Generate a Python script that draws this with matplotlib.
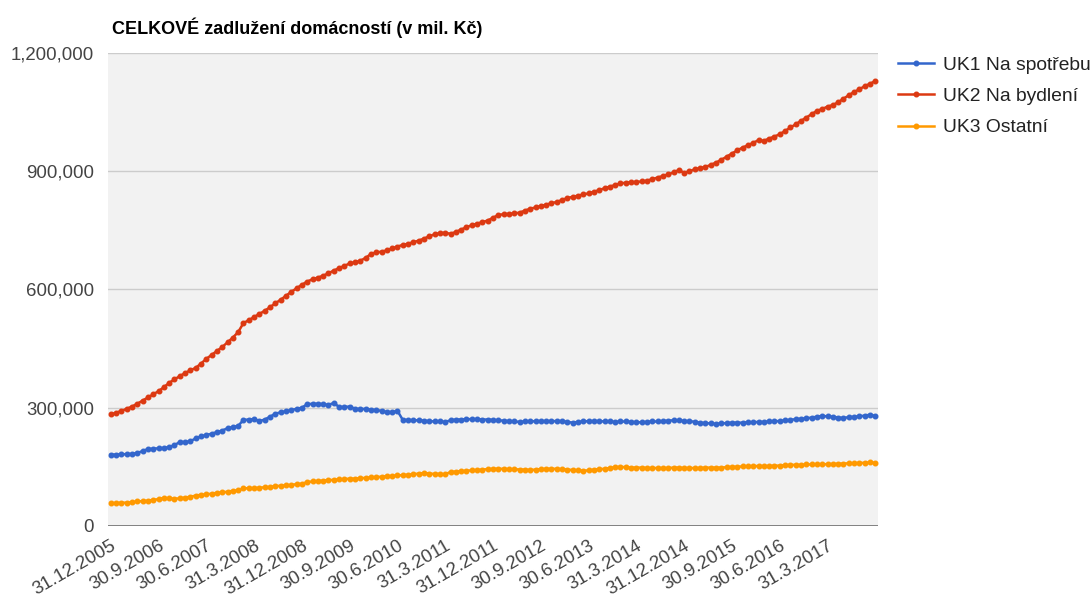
import matplotlib.pyplot as plt
from matplotlib.ticker import FuncFormatter

plt.rcParams['font.family'] = ['Liberation Sans', 'DejaVu Sans']

# monthly values, mil. Kč (read in thousands), 31.12.2005 .. 31.12.2017
uk1 = [181, 181, 182, 182, 183, 185, 190, 195, 196, 197, 198, 200, 205, 213, 213, 215,
       222, 227, 231, 234, 238, 242, 248, 251, 254, 269, 270, 271, 266, 270, 277, 285,
       288, 291, 294, 297, 300, 309, 310, 310, 309, 307, 312, 302, 302, 303, 297, 297,
       297, 295, 294, 292, 289, 289, 292, 269, 269, 268, 268, 267, 266, 265, 265, 264,
       268, 270, 270, 271, 271, 271, 270, 270, 269, 268, 267, 266, 265, 264, 265, 265,
       266, 266, 266, 266, 266, 266, 264, 262, 264, 265, 266, 266, 266, 265, 265, 264,
       265, 265, 264, 263, 263, 264, 265, 265, 266, 267, 268, 268, 266, 266, 264, 262,
       261, 260, 259, 260, 261, 262, 262, 262, 263, 263, 264, 264, 265, 266, 266, 268,
       269, 271, 272, 273, 275, 277, 279, 278, 277, 275, 274, 276, 277, 278, 280, 282,
       279]
uk2 = [283, 287, 292, 297, 303, 310, 318, 326, 334, 342, 352, 363, 372, 380, 388, 395,
       401, 412, 424, 434, 444, 454, 466, 478, 492, 515, 522, 530, 538, 546, 555, 565,
       574, 584, 594, 603, 612, 620, 626, 630, 635, 641, 648, 654, 660, 666, 669, 673,
       680, 690, 694, 696, 699, 704, 709, 713, 716, 720, 724, 729, 735, 740, 743, 744,
       741, 746, 752, 758, 763, 767, 771, 775, 782, 789, 791, 792, 793, 795, 800, 805,
       808, 812, 815, 819, 822, 827, 832, 835, 838, 841, 844, 848, 852, 857, 861, 865,
       869, 871, 872, 873, 874, 876, 880, 884, 888, 892, 897, 903, 896, 900, 905, 908,
       911, 916, 922, 929, 937, 945, 953, 960, 966, 972, 979, 977, 983, 988, 994, 1002,
       1011, 1019, 1028, 1036, 1045, 1053, 1058, 1064, 1068, 1075, 1084, 1093, 1101, 1108,
       1116, 1122, 1129]
uk3 = [58, 58, 59, 59, 60, 62, 63, 64, 66, 68, 71, 70, 69, 70, 72, 74, 77, 79, 80, 82,
       84, 85, 87, 89, 90, 95, 96, 96, 97, 98, 99, 101, 102, 103, 104, 106, 107, 111, 113,
       114, 115, 116, 117, 118, 119, 120, 120, 121, 122, 123, 124, 125, 126, 127, 128, 129,
       130, 131, 133, 134, 133, 132, 132, 131, 137, 138, 139, 140, 141, 142, 143, 144, 145,
       145, 145, 144, 144, 143, 143, 142, 143, 144, 145, 145, 145, 144, 143, 142, 141, 140,
       141, 143, 144, 145, 147, 149, 150, 149, 148, 148, 148, 147, 147, 147, 147, 147, 148,
       148, 147, 147, 147, 147, 148, 148, 148, 148, 149, 150, 150, 151, 151, 152, 152, 152,
       152, 153, 153, 154, 155, 155, 155, 156, 156, 156, 156, 157, 157, 158, 158, 159, 159,
       160, 160, 161, 160]

tick_labels = ["31.12.2005", "30.9.2006", "30.6.2007", "31.3.2008", "31.12.2008",
               "30.9.2009", "30.6.2010", "31.3.2011", "31.12.2011", "30.9.2012",
               "30.6.2013", "31.3.2014", "31.12.2014", "30.9.2015", "30.6.2016",
               "31.3.2017"]

series = [("UK1 Na spotřebu", uk1, "#3366cc"),
          ("UK2 Na bydlení", uk2, "#dc3912"),
          ("UK3 Ostatní", uk3, "#ff9900")]

fig = plt.figure(figsize=(10.92, 5.99), dpi=100)
ax = fig.add_axes([0.099, 0.122, 0.705, 0.7895])
ax.set_facecolor("#f2f2f2")

x = list(range(len(uk1)))
for name, vals, col in series:
    ax.plot(x, [v * 1000 for v in vals], color=col, lw=1.8, marker="o",
            markersize=3.3, label=name, zorder=3)

ax.set_xlim(-0.5, len(uk1) - 0.5)
ax.set_ylim(0, 1200000)
ax.set_yticks([0, 300000, 600000, 900000, 1200000])
ax.yaxis.set_major_formatter(FuncFormatter(lambda v, p: f"{int(v):,}"))
ax.grid(axis="y", color="#cccccc", lw=1)
ax.axhline(0, color="#777777", lw=2, zorder=4)
for s in ax.spines.values():
    s.set_visible(False)

ax.set_xticks(range(0, 9 * len(tick_labels), 9))
ax.set_xticklabels(tick_labels, rotation=30, ha="right", va="top",
                   rotation_mode="anchor")
ax.tick_params(axis="both", length=0, labelsize=13.4, labelcolor="#444444")
ax.tick_params(axis="x", pad=8)
ax.tick_params(axis="y", pad=10)

fig.text(0.103, 0.943, "CELKOVÉ zadlužení domácností (v mil. Kč)", fontsize=13,
         fontweight="bold", color="#000000", ha="left", va="baseline")

leg = ax.legend(loc="upper left", bbox_to_anchor=(0.822, 0.9065),
                bbox_transform=fig.transFigure, frameon=False, fontsize=13.9,
                handlelength=1.9, handletextpad=0.45, labelspacing=0.72,
                borderaxespad=0, borderpad=0)
for t in leg.get_texts():
    t.set_color("#222222")

fig.savefig("out.png", dpi=100)
